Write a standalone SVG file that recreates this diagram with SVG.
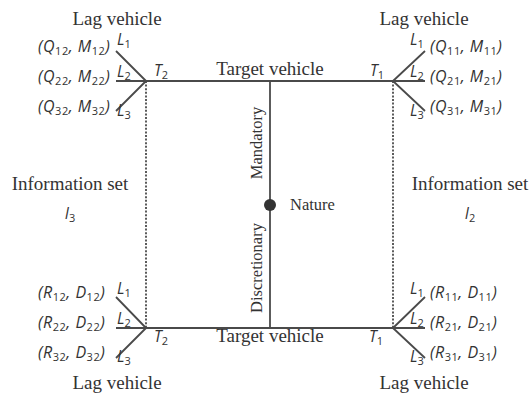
<svg xmlns="http://www.w3.org/2000/svg" width="529" height="393" viewBox="0 0 529 393">
<style>
.ln{stroke:#4a4a4a;stroke-width:1.8;fill:none}
.ds{stroke:#4a4a4a;stroke-width:1.8;stroke-dasharray:2,1.6;fill:none}
.t{font-family:"Liberation Serif",serif;font-size:19px;fill:#333}
.r{font-family:"Liberation Serif",serif;font-size:16.5px;fill:#333}
.m{font-family:"Open Sans","DejaVu Sans",sans-serif;font-style:italic;font-size:15.5px;fill:#333}
.p{letter-spacing:0.5px;font-size:16px}
.s{font-size:11px;font-style:normal}
</style>
<rect width="529" height="393" fill="#fff"/>
<g id="connectors">
<line class="ln" x1="146" y1="81" x2="393" y2="81"/>
<line class="ln" x1="146" y1="328" x2="393" y2="328"/>
<line class="ln" x1="270" y1="81" x2="270" y2="328"/>
<line class="ds" x1="146" y1="81" x2="146" y2="328"/>
<line class="ds" x1="393" y1="81" x2="393" y2="328"/>
<path class="ln" d="M116,51 L146,81 M116,81 L146,81 M116,111 L146,81"/>
<path class="ln" d="M425,51 L393,81 M425,81 L393,81 M425,111 L393,81"/>
<path class="ln" d="M116,297 L146,328 M116,328 L146,328 M116,358 L146,328"/>
<path class="ln" d="M425,297 L393,328 M425,328 L393,328 M425,358 L393,328"/>
</g>
<g id="nature">
<circle cx="270" cy="205" r="6" fill="#333"/>
<text class="r" x="290" y="210">Nature</text>
<text class="r" x="262" y="143" text-anchor="middle" transform="rotate(-90 262 143)">Mandatory</text>
<text class="r" x="262" y="268" text-anchor="middle" transform="rotate(-90 262 268)">Discretionary</text>
</g>
<g id="target-top">
<text class="t" x="270" y="75" text-anchor="middle">Target vehicle</text>
<text class="m" x="154" y="76">T<tspan class="s" dy="3">2</tspan></text>
<text class="m" x="370" y="76">T<tspan class="s" dy="3">1</tspan></text>
</g>
<g id="target-bottom">
<text class="t" x="270" y="342" text-anchor="middle">Target vehicle</text>
<text class="m" x="154" y="342">T<tspan class="s" dy="3">2</tspan></text>
<text class="m" x="369" y="342">T<tspan class="s" dy="3">1</tspan></text>
</g>
<g id="lag-top-left">
<text class="t" x="117" y="25" text-anchor="middle">Lag vehicle</text>
<text class="m" x="117" y="45">L<tspan class="s" dy="3">1</tspan></text>
<text class="m" x="117" y="77">L<tspan class="s" dy="3">2</tspan></text>
<text class="m" x="117" y="116">L<tspan class="s" dy="3">3</tspan></text>
<text class="m p" x="38" y="52">(Q<tspan class="s" dy="3">12</tspan><tspan dy="-3">, M</tspan><tspan class="s" dy="3">12</tspan><tspan dy="-3">)</tspan></text>
<text class="m p" x="38" y="82">(Q<tspan class="s" dy="3">22</tspan><tspan dy="-3">, M</tspan><tspan class="s" dy="3">22</tspan><tspan dy="-3">)</tspan></text>
<text class="m p" x="38" y="112">(Q<tspan class="s" dy="3">32</tspan><tspan dy="-3">, M</tspan><tspan class="s" dy="3">32</tspan><tspan dy="-3">)</tspan></text>
</g>
<g id="lag-top-right">
<text class="t" x="424" y="25" text-anchor="middle">Lag vehicle</text>
<text class="m" x="410" y="45">L<tspan class="s" dy="3">1</tspan></text>
<text class="m" x="410" y="77">L<tspan class="s" dy="3">2</tspan></text>
<text class="m" x="410" y="116">L<tspan class="s" dy="3">3</tspan></text>
<text class="m p" x="430" y="52">(Q<tspan class="s" dy="3">11</tspan><tspan dy="-3">, M</tspan><tspan class="s" dy="3">11</tspan><tspan dy="-3">)</tspan></text>
<text class="m p" x="430" y="82">(Q<tspan class="s" dy="3">21</tspan><tspan dy="-3">, M</tspan><tspan class="s" dy="3">21</tspan><tspan dy="-3">)</tspan></text>
<text class="m p" x="430" y="112">(Q<tspan class="s" dy="3">31</tspan><tspan dy="-3">, M</tspan><tspan class="s" dy="3">31</tspan><tspan dy="-3">)</tspan></text>
</g>
<g id="info-left">
<text class="t" x="70" y="190" text-anchor="middle">Information set</text>
<text class="m" x="70" y="219" text-anchor="middle" font-size="17">I<tspan class="s" dy="3">3</tspan></text>
</g>
<g id="info-right">
<text class="t" x="470" y="190" text-anchor="middle">Information set</text>
<text class="m" x="470" y="219" text-anchor="middle" font-size="17">I<tspan class="s" dy="3">2</tspan></text>
</g>
<g id="lag-bottom-left">
<text class="t" x="117" y="389" text-anchor="middle">Lag vehicle</text>
<text class="m" x="117" y="294">L<tspan class="s" dy="3">1</tspan></text>
<text class="m" x="117" y="324">L<tspan class="s" dy="3">2</tspan></text>
<text class="m" x="117" y="362">L<tspan class="s" dy="3">3</tspan></text>
<text class="m p" x="38" y="298">(R<tspan class="s" dy="3">12</tspan><tspan dy="-3">, D</tspan><tspan class="s" dy="3">12</tspan><tspan dy="-3">)</tspan></text>
<text class="m p" x="38" y="328">(R<tspan class="s" dy="3">22</tspan><tspan dy="-3">, D</tspan><tspan class="s" dy="3">22</tspan><tspan dy="-3">)</tspan></text>
<text class="m p" x="38" y="358">(R<tspan class="s" dy="3">32</tspan><tspan dy="-3">, D</tspan><tspan class="s" dy="3">32</tspan><tspan dy="-3">)</tspan></text>
</g>
<g id="lag-bottom-right">
<text class="t" x="424" y="389" text-anchor="middle">Lag vehicle</text>
<text class="m" x="410" y="294">L<tspan class="s" dy="3">1</tspan></text>
<text class="m" x="410" y="324">L<tspan class="s" dy="3">2</tspan></text>
<text class="m" x="410" y="362">L<tspan class="s" dy="3">3</tspan></text>
<text class="m p" x="430" y="298">(R<tspan class="s" dy="3">11</tspan><tspan dy="-3">, D</tspan><tspan class="s" dy="3">11</tspan><tspan dy="-3">)</tspan></text>
<text class="m p" x="430" y="328">(R<tspan class="s" dy="3">21</tspan><tspan dy="-3">, D</tspan><tspan class="s" dy="3">21</tspan><tspan dy="-3">)</tspan></text>
<text class="m p" x="430" y="358">(R<tspan class="s" dy="3">31</tspan><tspan dy="-3">, D</tspan><tspan class="s" dy="3">31</tspan><tspan dy="-3">)</tspan></text>
</g>
</svg>
